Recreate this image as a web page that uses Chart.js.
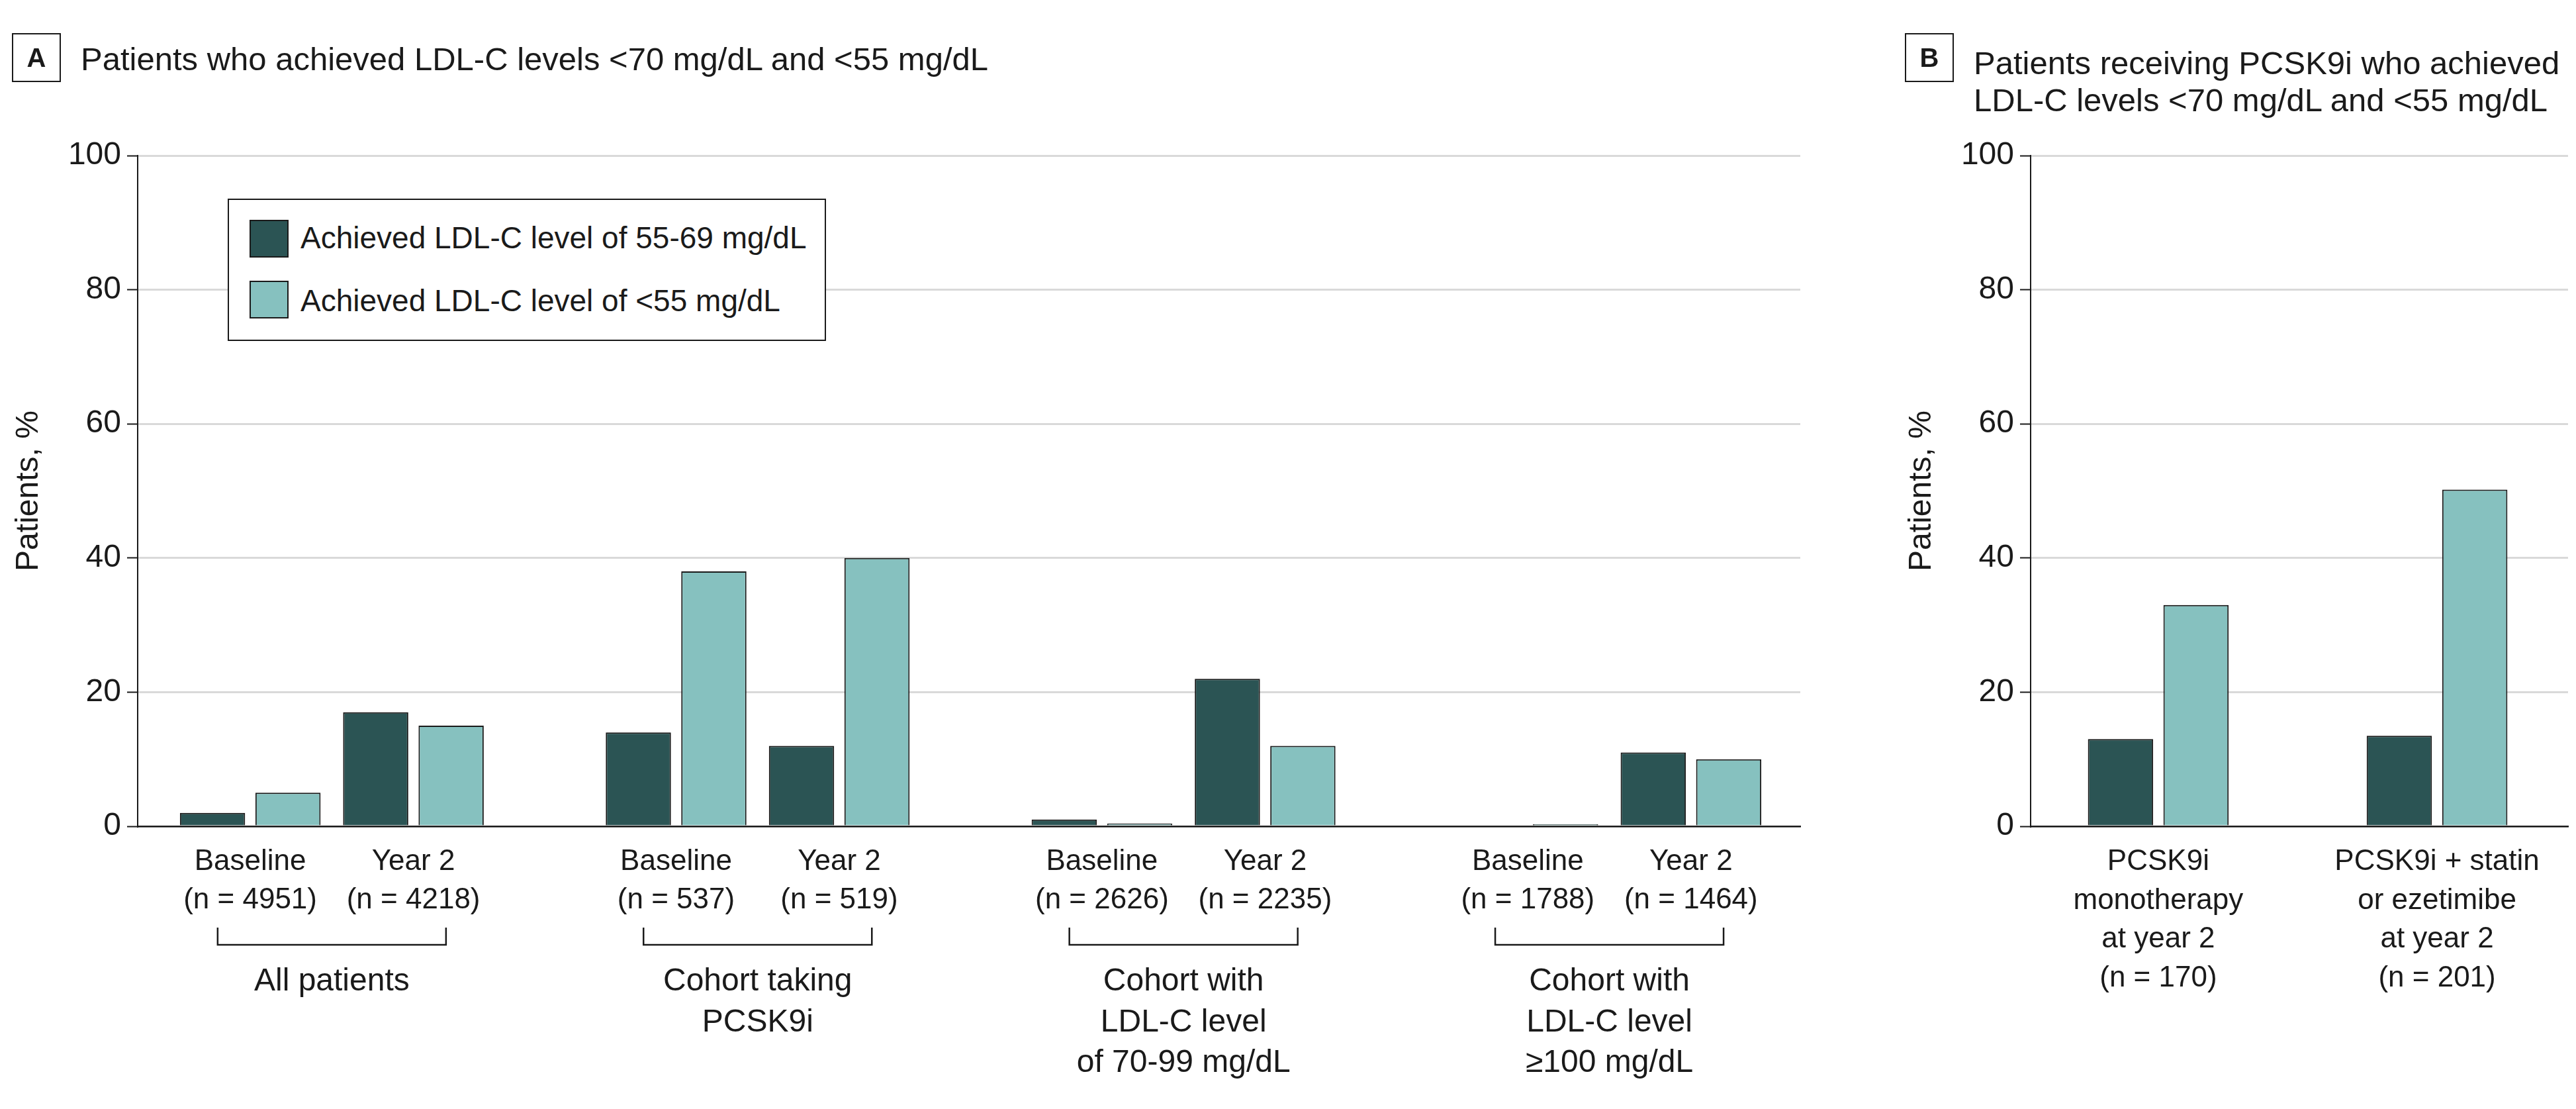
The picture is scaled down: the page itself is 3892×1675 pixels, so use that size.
<!DOCTYPE html>
<html>
<head>
<meta charset="utf-8">
<script src="https://cdn.jsdelivr.net/npm/chart.js@4/dist/chart.umd.min.js"></script>
<style>
  html, body { margin: 0; padding: 0; background: #fff; }
  #page { position: relative; width: 3892px; height: 1675px; overflow: hidden;
          font-family: 'Liberation Sans', Arial, sans-serif; color: #1a1a1a; background: #fff; }
  canvas { position: absolute; top: 0; }
  .tag { position: absolute; width: 74px; height: 74px; box-sizing: border-box; border: 2px solid #1a1a1a;
         font-weight: bold; font-size: 40px; display: flex; align-items: center; justify-content: center; }
  .ttl { position: absolute; font-size: 49px; white-space: nowrap; }
  #legend { position: absolute; left: 344px; top: 300px; width: 904px; height: 215px; box-sizing: border-box;
            border: 2px solid #1a1a1a; background: #fff; }
  .sw { position: absolute; left: 31px; width: 59px; height: 57px; box-sizing: border-box; border: 2px solid #1a1a1a; }
  .lt { position: absolute; left: 108px; font-size: 46px; line-height: 46px; white-space: nowrap; }
</style>
</head>
<body>
<div id="page">
  <canvas id="chartA" width="2760" height="1675" style="left:0;width:2760px;height:1675px"></canvas>
  <canvas id="chartB" width="1032" height="1675" style="left:2860px;width:1032px;height:1675px"></canvas>

  <div class="tag" style="left:18px;top:50px">A</div>
  <div class="ttl" style="left:122px;top:65px;line-height:49px">Patients who achieved LDL-C levels &lt;70 mg/dL and &lt;55 mg/dL</div>

  <div class="tag" style="left:2878px;top:50px">B</div>
  <div class="ttl" style="left:2982px;top:67px;line-height:56px">Patients receiving PCSK9i who achieved<br>LDL-C levels &lt;70 mg/dL and &lt;55 mg/dL</div>

  <div id="legend"></div>
</div>
<script>
// ---------------- DATA ----------------
const seriesNames = ['Achieved LDL-C level of 55-69 mg/dL', 'Achieved LDL-C level of <55 mg/dL'];

// Panel A
const groupLabels = [
  ['All patients'],
  ['Cohort taking', 'PCSK9i'],
  ['Cohort with', 'LDL-C level', 'of 70-99 mg/dL'],
  ['Cohort with', 'LDL-C level', '\u2265100 mg/dL']
];
const timepoints = ['Baseline', 'Year 2'];
const nA = [4951, 4218, 537, 519, 2626, 2235, 1788, 1464];
const a55to69 = [2, 17, 14, 12, 1, 22, 0, 11];
const aBelow55 = [5, 15, 38, 40, 0.4, 12, 0.3, 10];

// Panel B
const bCategories = [
  ['PCSK9i', 'monotherapy', 'at year 2'],
  ['PCSK9i + statin', 'or ezetimibe', 'at year 2']
];
const nB = [170, 201];
const b55to69 = [13, 13.5];
const bBelow55 = [33, 50.2];

const yAxisTitle = 'Patients, %';

// ---------------- STYLE / LAYOUT ----------------
const COLORS = ['#2b5454', '#86c1bf'];
const INK = '#1a1a1a';
const FONT = "'Liberation Sans', Arial, sans-serif";
const GROUP_STEP = 2.61;
const A_MIN = -0.69, A_MAX = 9.5;
const B_MIN = -0.458, B_MAX = 1.47;

Chart.defaults.font.family = FONT;
Chart.defaults.color = INK;

const posA = i => Math.floor(i / 2) * GROUP_STEP + (i % 2);

// HTML legend generated from series
const legend = document.getElementById('legend');
seriesNames.forEach((name, i) => {
  const sw = document.createElement('div');
  sw.className = 'sw';
  sw.style.top = (30 + i * 92) + 'px';
  sw.style.background = COLORS[i];
  legend.appendChild(sw);
  const t = document.createElement('div');
  t.className = 'lt';
  t.style.top = (34 + i * 95) + 'px';
  t.textContent = name;
  legend.appendChild(t);
});

function yScale() {
  return {
    min: 0, max: 100,
    ticks: { stepSize: 20, font: { size: 48 }, color: INK, padding: 9 },
    grid: { color: '#d9d9d9', lineWidth: 3, tickColor: INK, tickLength: 16, tickWidth: 2 },
    border: { color: INK, width: 2 },
    title: { display: true, text: yAxisTitle, font: { size: 48 }, color: INK, padding: { top: 15, bottom: 0 } },
    afterFit: s => { s.width = 208; }
  };
}

function barDataset(label, values, posFn, color, catPct) {
  return {
    label,
    data: values.map((v, i) => ({ x: posFn(i), y: v })),
    backgroundColor: color,
    borderColor: INK,
    borderWidth: 2,
    borderSkipped: 'start',
    categoryPercentage: catPct,
    barPercentage: 0.864
  };
}

const bracketPlugin = {
  id: 'brackets',
  afterDraw(chart) {
    const xs = chart.scales.x;
    const ctx = chart.ctx;
    const half = chart.getDatasetMeta(0).data[0].width / 2;
    const yTop = xs.bottom + 3, yBot = xs.bottom + 29;
    ctx.save();
    ctx.strokeStyle = INK;
    ctx.lineWidth = 2.5;
    groupLabels.forEach((g, gi) => {
      const l = xs.getPixelForValue(gi * GROUP_STEP) - half;
      const r = xs.getPixelForValue(gi * GROUP_STEP + 1) + half;
      ctx.beginPath();
      ctx.moveTo(l, yTop); ctx.lineTo(l, yBot); ctx.lineTo(r, yBot); ctx.lineTo(r, yTop);
      ctx.stroke();
    });
    ctx.restore();
  }
};

new Chart(document.getElementById('chartA'), {
  type: 'bar',
  data: {
    datasets: [
      barDataset(seriesNames[0], a55to69, posA, COLORS[0], 0.925),
      barDataset(seriesNames[1], aBelow55, posA, COLORS[1], 0.925)
    ]
  },
  options: {
    responsive: false, animation: false,
    layout: { padding: { top: 235, right: 40, left: 0, bottom: 0 } },
    plugins: { legend: { display: false }, tooltip: { enabled: false } },
    scales: {
      x: {
        type: 'linear', position: 'bottom', weight: 0, min: A_MIN, max: A_MAX, offset: false,
        grid: { display: false, drawTicks: false, offset: false },
        border: { display: true, color: INK, width: 2.5 },
        afterBuildTicks: s => { s.ticks = nA.map((n, i) => ({ value: posA(i) })); },
        ticks: {
          autoSkip: false, maxRotation: 0, minRotation: 0, padding: 25, color: INK,
          font: { size: 44, lineHeight: 1.32 },
          callback: (v, i) => [timepoints[i % 2], '(n = ' + nA[i] + ')']
        },
        afterFit: s => { s.height = 150; }
      },
      x2: {
        type: 'linear', position: 'bottom', weight: 1, min: A_MIN, max: A_MAX, offset: false,
        grid: { display: false, drawTicks: false, offset: false },
        border: { display: false },
        afterBuildTicks: s => { s.ticks = groupLabels.map((g, i) => ({ value: i * GROUP_STEP + 0.5 })); },
        ticks: {
          autoSkip: false, maxRotation: 0, minRotation: 0, padding: 54, color: INK,
          font: { size: 48, lineHeight: 1.285 },
          callback: (v, i) => groupLabels[i]
        },
        afterFit: s => { s.height = 277; }
      },
      y: yScale()
    }
  },
  plugins: [bracketPlugin]
});

new Chart(document.getElementById('chartB'), {
  type: 'bar',
  data: {
    datasets: [
      barDataset(seriesNames[0], b55to69, i => i, COLORS[0], 0.5416),
      barDataset(seriesNames[1], bBelow55, i => i, COLORS[1], 0.5416)
    ]
  },
  options: {
    responsive: false, animation: false,
    layout: { padding: { top: 235, right: 12, left: 0, bottom: 0 } },
    plugins: { legend: { display: false }, tooltip: { enabled: false } },
    scales: {
      x: {
        type: 'linear', position: 'bottom', min: B_MIN, max: B_MAX, offset: false,
        grid: { display: false, drawTicks: false, offset: false },
        border: { display: true, color: INK, width: 2.5 },
        afterBuildTicks: s => { s.ticks = nB.map((n, i) => ({ value: i })); },
        ticks: {
          autoSkip: false, maxRotation: 0, minRotation: 0, padding: 25, color: INK,
          font: { size: 44, lineHeight: 1.33 },
          callback: (v, i) => bCategories[i].concat(['(n = ' + nB[i] + ')'])
        },
        afterFit: s => { s.height = 427; }
      },
      y: yScale()
    }
  }
});
</script>
</body>
</html>
